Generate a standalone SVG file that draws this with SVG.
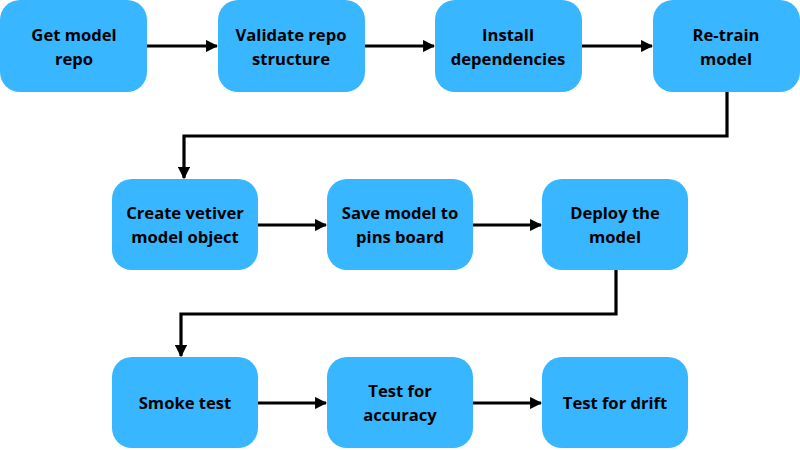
<svg xmlns="http://www.w3.org/2000/svg" width="800" height="450" viewBox="0 0 800 450">
<defs>
<style>
.node rect{fill:#38b6ff;}
.node text{font-family:"Open Sans","Liberation Sans",sans-serif;font-weight:700;font-size:16.6px;fill:#000;text-anchor:middle;}
.conn path{fill:none;stroke:#000;stroke-width:3.2;}
</style>
<marker id="ah" viewBox="0 0 10 10" refX="9" refY="5" markerWidth="3.8" markerHeight="3.8" markerUnits="strokeWidth" orient="auto">
<path d="M0,0 L10,5 L0,10 z" fill="#000"/>
</marker>
</defs>
<rect width="800" height="450" fill="#fff"/>
<g class="conn">
<path d="M147,46 H217" marker-end="url(#ah)"/>
<path d="M365,46 H434" marker-end="url(#ah)"/>
<path d="M582,46 H652" marker-end="url(#ah)"/>
<path d="M727,92 V136 H184 V178" marker-end="url(#ah)"/>
<path d="M258,225 H326" marker-end="url(#ah)"/>
<path d="M473,225 H541" marker-end="url(#ah)"/>
<path d="M616,270 V314 H181 V356" marker-end="url(#ah)"/>
<path d="M258,403 H326" marker-end="url(#ah)"/>
<path d="M473,403 H541" marker-end="url(#ah)"/>
</g>
<g id="n1" class="node"><rect x="0" y="0" width="147" height="92" rx="20"/><text x="74" y="41">Get model</text><text x="74" y="65">repo</text></g>
<g id="n2" class="node"><rect x="218" y="0" width="147" height="92" rx="20"/><text x="291" y="41">Validate repo</text><text x="291" y="65">structure</text></g>
<g id="n3" class="node"><rect x="435" y="0" width="147" height="92" rx="20"/><text x="508" y="41">Install</text><text x="508" y="65">dependencies</text></g>
<g id="n4" class="node"><rect x="653" y="0" width="147" height="92" rx="20"/><text x="726" y="41">Re-train</text><text x="726" y="65">model</text></g>
<g id="n5" class="node"><rect x="112" y="179" width="146" height="91" rx="20"/><text x="185" y="219">Create vetiver</text><text x="185" y="243">model object</text></g>
<g id="n6" class="node"><rect x="327" y="179" width="146" height="91" rx="20"/><text x="400" y="219">Save model to</text><text x="400" y="243">pins board</text></g>
<g id="n7" class="node"><rect x="542" y="179" width="146" height="91" rx="20"/><text x="615" y="219">Deploy the</text><text x="615" y="243">model</text></g>
<g id="n8" class="node"><rect x="112" y="357" width="146" height="91" rx="20"/><text x="185" y="409">Smoke test</text></g>
<g id="n9" class="node"><rect x="327" y="357" width="146" height="91" rx="20"/><text x="400" y="397">Test for</text><text x="400" y="421">accuracy</text></g>
<g id="n10" class="node"><rect x="542" y="357" width="146" height="91" rx="20"/><text x="615" y="409">Test for drift</text></g>
</svg>
